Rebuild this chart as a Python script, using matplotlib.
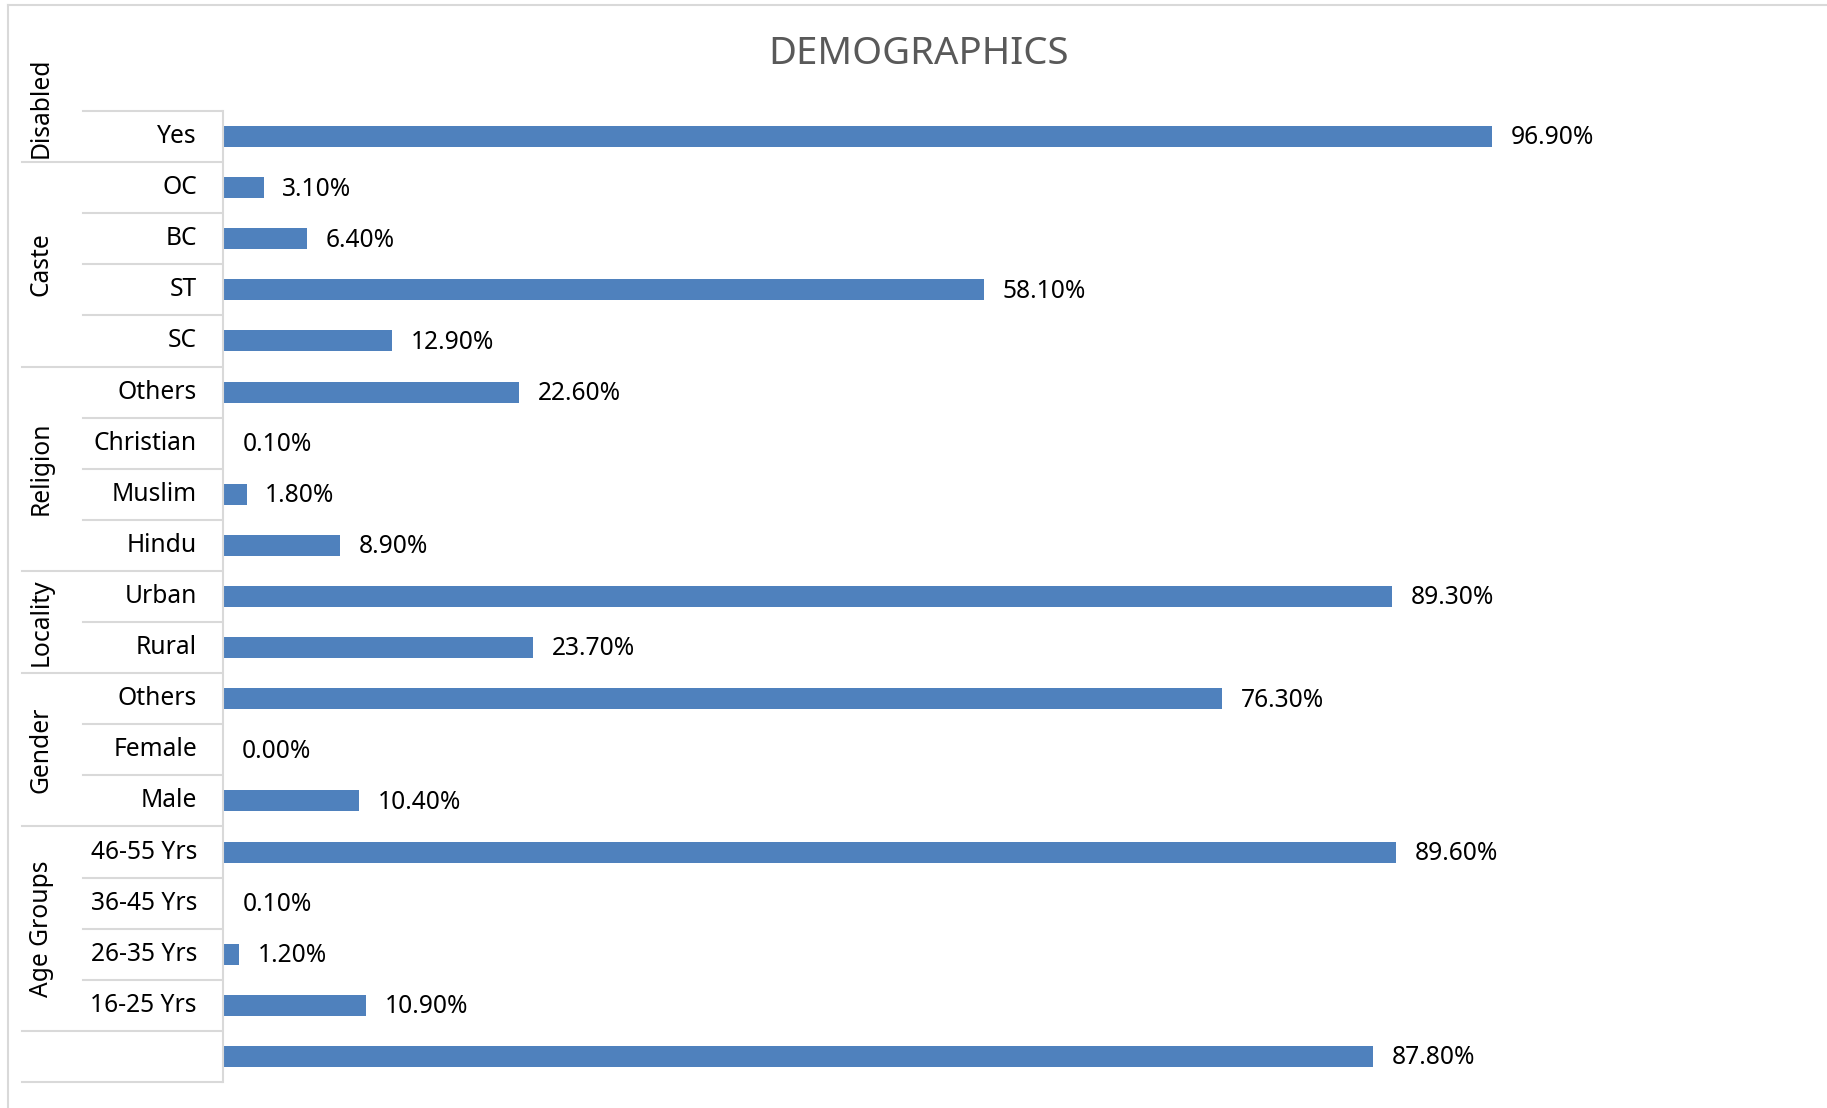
import numpy as np
import matplotlib.pyplot as plt
from matplotlib.transforms import blended_transform_factory
from matplotlib.lines import Line2D

plt.rcParams['font.family'] = ['Noto Sans', 'DejaVu Sans']

# rows listed top to bottom
groups = ['Disabled', 'Caste', 'Religion', 'Locality', 'Gender', 'Age Groups', '']
group_items = [
    ['Yes'],
    ['OC', 'BC', 'ST', 'SC'],
    ['Others', 'Christian', 'Muslim', 'Hindu'],
    ['Urban', 'Rural'],
    ['Others', 'Female', 'Male'],
    ['46-55 Yrs', '36-45 Yrs', '26-35 Yrs', '16-25 Yrs'],
    [''],
]
values = [
    96.9,
    3.1, 6.4, 58.1, 12.9,
    22.6, 0.1, 1.8, 8.9,
    89.3, 23.7,
    76.3, 0.0, 10.4,
    89.6, 0.1, 1.2, 10.9,
    87.8,
]

labels = [item for items in group_items for item in items]
n = len(labels)
ypos = np.arange(n)

W, H = 1827, 1108
fig = plt.figure(figsize=(W / 100, H / 100), dpi=100)
ax = fig.add_axes([223 / W, 26 / H, 1571.5 / W, 971 / H])

bar_color = '#4F81BD'
line_color = '#D9D9D9'
fs = 17.7

ax.barh(ypos, values, height=0.41, color=bar_color, edgecolor='none')
for y, v in zip(ypos, values):
    ax.annotate(f'{v:.2f}%', (v, y), xytext=(13.5, -1), textcoords='offset points',
                ha='left', va='center', fontsize=fs)

ax.set_xlim(0, 120)
ax.set_ylim(n - 0.5, -0.5)
ax.set_xticks([])
ax.set_yticks([])
for s in ['top', 'right', 'bottom']:
    ax.spines[s].set_visible(False)
ax.spines['left'].set_color(line_color)
ax.spines['left'].set_linewidth(1.5)

# category table on the left
tr = blended_transform_factory(fig.transFigure, ax.transData)
x_axis = 222 / W
x_item = 83 / W
x_group = 22 / W

ax.plot([x_item, x_axis], [-0.5, -0.5], transform=tr, color=line_color, lw=1.5, clip_on=False)

start = 0
for g, items in zip(groups, group_items):
    for k, item in enumerate(items):
        i = start + k
        ax.text(197 / W, i, item, transform=tr, ha='right', va='center', fontsize=fs)
        if k < len(items) - 1:
            ax.plot([x_item, x_axis], [i + 0.5, i + 0.5], transform=tr,
                    color=line_color, lw=1.5, clip_on=False)
    end = start + len(items) - 1
    ax.plot([x_group, x_axis], [end + 0.5, end + 0.5], transform=tr,
            color=line_color, lw=1.5, clip_on=False)
    if g:
        if len(items) == 1:
            ax.text(41 / W, end + 0.42, g, transform=tr, rotation=90,
                    ha='center', va='bottom', fontsize=fs)
        else:
            ax.text(41 / W, (start + end) / 2, g, transform=tr, rotation=90,
                    ha='center', va='center', fontsize=fs)
    start = end + 1

fig.text(919 / W, 1 - 54 / H, 'DEMOGRAPHICS', ha='center', va='center',
         fontsize=27.6, color='#595959')

# chart frame (top and left edges)
fig.add_artist(Line2D([8 / W, 1], [1 - 5 / H, 1 - 5 / H], transform=fig.transFigure,
                      color=line_color, lw=1.5))
fig.add_artist(Line2D([8 / W, 8 / W], [0, 1 - 5 / H], transform=fig.transFigure,
                      color=line_color, lw=1.5))

fig.savefig('out.png', dpi=100)
